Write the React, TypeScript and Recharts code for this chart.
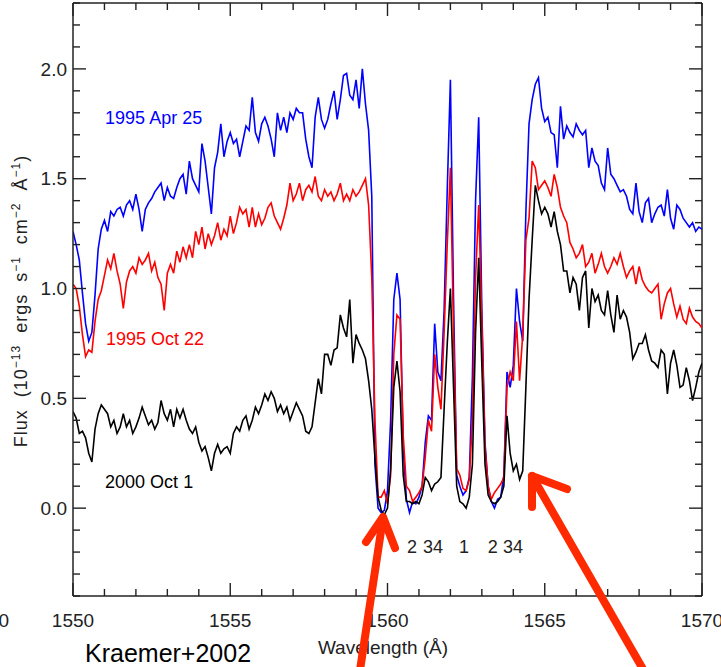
import React from "react";
import {
  LineChart,
  Line,
  XAxis,
  YAxis,
  ReferenceLine,
  ReferenceDot,
} from "recharts";

// C IV 1548/1551 region, three epochs, sampled every 0.1 A from 1550 to 1570
const FLUX_APR95 = [
  1.26, 1.20, 1.13, 0.98, 0.84, 0.76, 0.80, 0.97, 1.18, 1.27,
  1.31, 1.26, 1.35, 1.33, 1.36, 1.37, 1.33, 1.38, 1.40, 1.36,
  1.43, 1.36, 1.26, 1.36, 1.39, 1.41, 1.44, 1.46, 1.48, 1.40,
  1.46, 1.42, 1.41, 1.46, 1.50, 1.52, 1.43, 1.58, 1.50, 1.47,
  1.44, 1.66, 1.58, 1.46, 1.34, 1.55, 1.62, 1.75, 1.60, 1.67,
  1.71, 1.66, 1.68, 1.60, 1.67, 1.74, 1.72, 1.87, 1.71, 1.67,
  1.75, 1.78, 1.74, 1.68, 1.60, 1.80, 1.72, 1.78, 1.71, 1.80,
  1.77, 1.82, 1.80, 1.80, 1.68, 1.60, 1.55, 1.78, 1.87, 1.77,
  1.73, 1.77, 1.84, 1.90, 1.77, 1.86, 1.97, 1.98, 1.88, 1.86,
  1.95, 1.82, 2.00, 1.84, 1.72, 1.42, 0.20, 0.00, -0.02, -0.01,
  0.08, 0.40, 0.95, 1.07, 0.95, 0.28, 0.04, -0.02, 0.03, 0.02,
  0.05, 0.10, 0.30, 0.42, 0.40, 0.84, 0.62, 0.58, 0.90, 1.45,
  1.95, 0.95, 0.15, 0.10, 0.06, 0.08, 0.14, 0.60, 1.40, 1.78,
  0.90, 0.30, 0.10, 0.03, 0.00, 0.04, 0.05, 0.15, 0.62, 0.55,
  0.65, 1.00, 0.85, 0.76, 1.35, 1.75, 1.86, 1.93, 1.96, 1.82,
  1.76, 1.78, 1.71, 1.70, 1.55, 1.83, 1.68, 1.74, 1.71, 1.69,
  1.75, 1.72, 1.70, 1.72, 1.55, 1.64, 1.58, 1.56, 1.48, 1.45,
  1.64, 1.52, 1.50, 1.47, 1.44, 1.45, 1.42, 1.36, 1.34, 1.48,
  1.35, 1.30, 1.39, 1.41, 1.30, 1.34, 1.37, 1.38, 1.33, 1.45,
  1.32, 1.27, 1.38, 1.36, 1.32, 1.30, 1.28, 1.30, 1.26, 1.28,
  1.27,
];

const FLUX_OCT95 = [
  1.02, 1.00, 0.92, 0.79, 0.69, 0.72, 0.71, 0.85, 0.95, 0.99,
  1.06, 1.13, 1.09, 1.16, 1.08, 1.02, 0.91, 1.03, 1.08, 1.10,
  1.07, 1.14, 1.11, 1.13, 1.16, 1.08, 1.12, 1.05, 1.02, 0.90,
  1.07, 1.11, 1.07, 1.17, 1.12, 1.19, 1.14, 1.20, 1.14, 1.26,
  1.20, 1.28, 1.18, 1.25, 1.20, 1.24, 1.30, 1.22, 1.27, 1.24,
  1.33, 1.25, 1.30, 1.37, 1.34, 1.36, 1.28, 1.37, 1.28, 1.34,
  1.29, 1.32, 1.37, 1.39, 1.33, 1.30, 1.27, 1.32, 1.38, 1.48,
  1.40, 1.43, 1.48, 1.40, 1.45, 1.47, 1.44, 1.51, 1.42, 1.40,
  1.45, 1.42, 1.44, 1.40, 1.43, 1.48, 1.40, 1.43, 1.40, 1.45,
  1.42, 1.44, 1.47, 1.50, 1.38, 1.05, 0.40, 0.05, 0.05, 0.08,
  0.02, 0.15, 0.70, 0.88, 0.86, 0.33, 0.10, 0.08, 0.03, 0.05,
  0.07, 0.10, 0.23, 0.40, 0.35, 0.70, 0.55, 0.45, 0.80, 1.20,
  1.55, 0.80, 0.18, 0.15, 0.09, 0.08, 0.13, 0.40, 1.05, 1.38,
  0.85, 0.28, 0.10, 0.04, 0.07, 0.09, 0.11, 0.14, 0.55, 0.62,
  0.58, 0.85, 0.58, 0.79, 1.22, 1.32, 1.58, 1.55, 1.45, 1.47,
  1.49, 1.46, 1.42, 1.52, 1.46, 1.37, 1.33, 1.30, 1.21, 1.18,
  1.14, 1.16, 1.20, 1.10, 1.12, 1.16, 1.07, 1.11, 1.16, 1.10,
  1.07, 1.10, 1.14, 1.11, 1.16, 1.10, 1.05, 1.08, 1.10, 1.02,
  1.10, 1.04, 1.01, 0.99, 0.98, 1.00, 1.02, 0.86, 0.93, 0.98,
  1.00, 0.93, 0.87, 0.92, 0.86, 0.84, 0.91, 0.87, 0.85, 0.84,
  0.82,
];

const FLUX_OCT00 = [
  0.44, 0.41, 0.34, 0.35, 0.32, 0.25, 0.21, 0.36, 0.43, 0.47,
  0.45, 0.43, 0.37, 0.40, 0.34, 0.37, 0.43, 0.37, 0.40, 0.34,
  0.37, 0.41, 0.46, 0.42, 0.38, 0.40, 0.36, 0.39, 0.49, 0.43,
  0.40, 0.45, 0.37, 0.45, 0.41, 0.45, 0.40, 0.36, 0.34, 0.37,
  0.30, 0.26, 0.28, 0.23, 0.17, 0.25, 0.29, 0.25, 0.27, 0.28,
  0.25, 0.34, 0.37, 0.35, 0.40, 0.42, 0.36, 0.40, 0.46, 0.43,
  0.47, 0.52, 0.49, 0.53, 0.50, 0.44, 0.47, 0.43, 0.46, 0.40,
  0.44, 0.48, 0.45, 0.42, 0.35, 0.34, 0.37, 0.48, 0.59, 0.52,
  0.70, 0.70, 0.65, 0.72, 0.73, 0.88, 0.82, 0.78, 0.95, 0.66,
  0.79, 0.75, 0.72, 0.68, 0.58, 0.45, 0.23, 0.05, -0.01, -0.03,
  0.00, 0.18, 0.55, 0.67, 0.53, 0.15, 0.03, 0.03, 0.02, 0.03,
  0.02, 0.06, 0.14, 0.12, 0.08, 0.11, 0.12, 0.14, 0.45, 0.75,
  1.00, 0.55, 0.10, 0.03, 0.02, 0.00, 0.05, 0.20, 0.80, 1.14,
  0.65, 0.20, 0.06, 0.03, 0.02, 0.03, 0.05, 0.10, 0.42, 0.25,
  0.17, 0.20, 0.13, 0.17, 0.55, 0.95, 1.22, 1.47, 1.40, 1.34,
  1.37, 1.34, 1.28, 1.35, 1.26, 1.20, 1.08, 1.08, 0.98, 1.05,
  1.02, 0.90, 1.05, 1.08, 0.82, 1.00, 0.94, 0.97, 0.90, 0.88,
  0.99, 0.88, 0.80, 0.97, 0.86, 0.90, 0.87, 0.80, 0.68, 0.71,
  0.75, 0.75, 0.79, 0.72, 0.67, 0.66, 0.64, 0.72, 0.70, 0.52,
  0.66, 0.72, 0.65, 0.55, 0.56, 0.64, 0.58, 0.49, 0.55, 0.62,
  0.66,
];

const WAVELENGTH = FLUX_APR95.map((_, i) => Math.round((1550 + i * 0.1) * 10) / 10);

const X_TICKS = [
  1550, 1551, 1552, 1553, 1554, 1555, 1556, 1557, 1558, 1559, 1560,
  1561, 1562, 1563, 1564, 1565, 1566, 1567, 1568, 1569, 1570,
];
const Y_TICKS = [
  -0.4, -0.3, -0.2, -0.1, 0, 0.1, 0.2, 0.3, 0.4, 0.5, 0.6, 0.7, 0.8, 0.9,
  1.0, 1.1, 1.2, 1.3, 1.4, 1.5, 1.6, 1.7, 1.8, 1.9, 2.0, 2.1, 2.2, 2.3,
];

const SERIES_NAMES = ["1995 Apr 25", "1995 Oct 22", "2000 Oct 1"];
const SERIES_COLORS = ["#0000ff", "#ff0000", "#000000"];
const SERIES_LABEL_WAVE = [1551.02, 1551.05, 1551.02];
const SERIES_LABEL_FLUX = [1.78, 0.772, 0.119];

const LINE_IDS = ["2", "34", "1", "2", "34"];
const LINE_ID_WAVE = [1560.78, 1561.45, 1562.43, 1563.35, 1563.99];
const LINE_ID_FLUX = -0.174;

const PLOT = { left: 73, right: 702, top: 3, bottom: 596 };
const FONT = "'Liberation Sans', Arial, Helvetica, sans-serif";
const AXIS = "#222";
const ARROW = "#ff2a00";

const rows = WAVELENGTH.map((w, i) => ({
  w,
  apr95: FLUX_APR95[i],
  oct95: FLUX_OCT95[i],
  oct00: FLUX_OCT00[i],
}));

function XTick(props: any) {
  const { x, payload } = props;
  const major = payload.value % 5 === 0;
  const len = major ? 13 : 7;
  return (
    <g>
      <line x1={x} x2={x} y1={PLOT.bottom} y2={PLOT.bottom - len} stroke={AXIS} strokeWidth={1.4} />
      <line x1={x} x2={x} y1={PLOT.top} y2={PLOT.top + len} stroke={AXIS} strokeWidth={1.4} />
      {major && (
        <text x={x} y={627} textAnchor="middle" fontSize={19} fill="#222" fontFamily={FONT}>
          {payload.value}
        </text>
      )}
    </g>
  );
}

function YTick(props: any) {
  const { y, payload } = props;
  const v = payload.value;
  const major = Math.abs(v * 2 - Math.round(v * 2)) < 1e-6;
  const len = major ? 13 : 7;
  return (
    <g>
      <line x1={PLOT.left} x2={PLOT.left + len} y1={y} y2={y} stroke={AXIS} strokeWidth={1.4} />
      <line x1={PLOT.right} x2={PLOT.right - len} y1={y} y2={y} stroke={AXIS} strokeWidth={1.4} />
      {major && (
        <text x={PLOT.left - 6} y={y} dy="0.35em" textAnchor="end" fontSize={19} fill="#222" fontFamily={FONT}>
          {Math.abs(v).toFixed(1)}
        </text>
      )}
    </g>
  );
}

const textShape = (text: string, color: string, anchor: string) => (p: any) => (
  <text x={p.cx} y={p.cy} dy="0.35em" fill={color} fontSize={18} textAnchor={anchor} fontFamily={FONT}>
    {text}
  </text>
);

export default function App() {
  const seriesKeys = ["apr95", "oct95", "oct00"];
  return (
    <div
      style={{
        position: "absolute",
        left: 0,
        top: 0,
        width: 721,
        height: 667,
        background: "#fff",
        overflow: "hidden",
      }}
    >
      <LineChart
        width={721}
        height={667}
        data={rows}
        margin={{ top: PLOT.top, right: 721 - PLOT.right, bottom: 0, left: 0 }}
      >
        <XAxis
          dataKey="w"
          type="number"
          domain={[1550, 1570]}
          ticks={X_TICKS}
          interval={0}
          allowDataOverflow
          height={667 - PLOT.bottom}
          tickLine={false}
          axisLine={{ stroke: AXIS, strokeWidth: 1.5 }}
          tick={<XTick />}
        />
        <YAxis
          type="number"
          domain={[-0.4, 2.3]}
          ticks={Y_TICKS}
          interval={0}
          allowDataOverflow
          width={PLOT.left}
          tickLine={false}
          axisLine={{ stroke: AXIS, strokeWidth: 1.5 }}
          tick={<YTick />}
        />
        <ReferenceLine y={2.3} stroke={AXIS} strokeWidth={1.5} />
        <ReferenceLine x={1570} stroke={AXIS} strokeWidth={1.5} />
        {seriesKeys.map((k, i) => (
          <Line
            key={k}
            dataKey={k}
            type="linear"
            stroke={SERIES_COLORS[i]}
            strokeWidth={1.6}
            dot={false}
            activeDot={false}
            isAnimationActive={false}
          />
        ))}
        {SERIES_NAMES.map((name, i) => (
          <ReferenceDot
            key={name}
            x={SERIES_LABEL_WAVE[i]}
            y={SERIES_LABEL_FLUX[i]}
            r={0}
            shape={textShape(name, SERIES_COLORS[i], "start")}
          />
        ))}
        {LINE_IDS.map((id, i) => (
          <ReferenceDot
            key={i}
            x={LINE_ID_WAVE[i]}
            y={LINE_ID_FLUX}
            r={0}
            shape={textShape(id, "#222", "middle")}
          />
        ))}
      </LineChart>
      <svg
        width={721}
        height={667}
        style={{ position: "absolute", left: 0, top: 0, pointerEvents: "none" }}
      >
        <text
          transform="translate(27,301) rotate(-90)"
          textAnchor="middle"
          fontSize={18}
          letterSpacing={1}
          fill="#222"
          fontFamily={FONT}
          style={{ whiteSpace: "pre" }}
        >
          {"Flux  (10"}
          <tspan fontSize={12} dy={-7}>{"−13"}</tspan>
          <tspan dy={7}>{"  ergs  s"}</tspan>
          <tspan fontSize={12} dy={-7}>{"−1"}</tspan>
          <tspan dy={7}>{"  cm"}</tspan>
          <tspan fontSize={12} dy={-7}>{"−2"}</tspan>
          <tspan dy={7}>{"  Å"}</tspan>
          <tspan fontSize={12} dy={-7}>{"−1"}</tspan>
          <tspan dy={7}>{")"}</tspan>
        </text>
        <text x={383} y={654} textAnchor="middle" fontSize={19} fill="#222" fontFamily={FONT}>
          Wavelength (Å)
        </text>
        <text x={9} y={627} textAnchor="end" fontSize={19} fill="#222" fontFamily={FONT}>
          0
        </text>
        <text x={85} y={662} fontSize={25} fill="#000" fontFamily={FONT}>
          Kraemer+2002
        </text>
        <g stroke={ARROW} strokeWidth={8} strokeLinecap="round" strokeLinejoin="round" fill="none">
          <line x1={383} y1={518} x2={357} y2={690} />
          <polyline points="366,542 383,517 395,548" />
          <line x1={532} y1={476} x2={655} y2={690} />
          <polyline points="532,507 532,476 567,489" />
        </g>
      </svg>
    </div>
  );
}
